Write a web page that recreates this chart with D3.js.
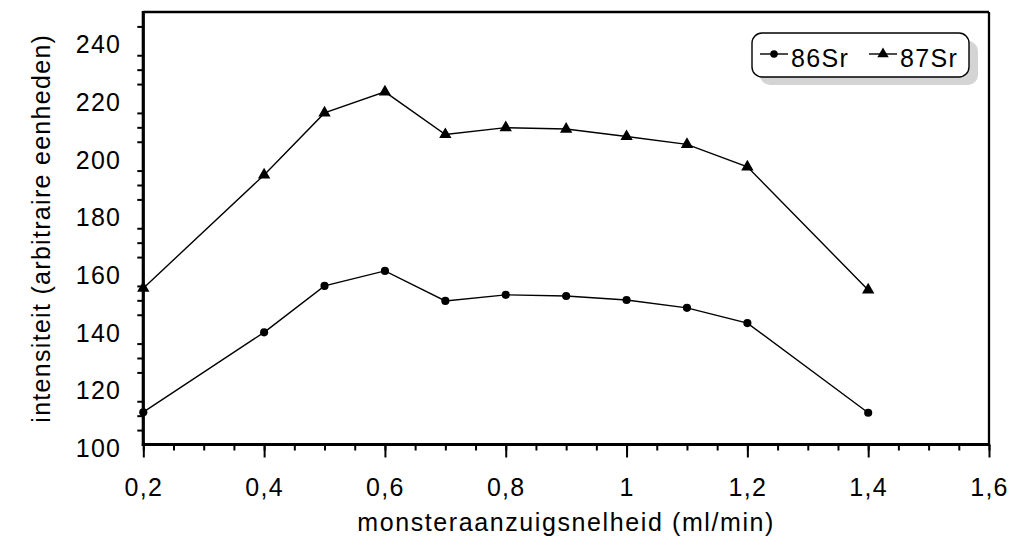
<!DOCTYPE html>
<html>
<head>
<meta charset="utf-8">
<script src="https://cdn.jsdelivr.net/npm/d3@7"></script>
<style>
  html, body { margin: 0; padding: 0; background: #fff; }
  svg { display: block; }
  text { font-family: "Liberation Sans", Arial, sans-serif; fill: #000; }
</style>
</head>
<body>
<svg id="chart" width="1011" height="550"></svg>
<script>
// Sample uptake rate (ml/min) and measured intensities per isotope
const flowRates = [0.2, 0.4, 0.5, 0.6, 0.7, 0.8, 0.9, 1.0, 1.1, 1.2, 1.4];
const sr86 = [111.2, 138.9, 155.0, 160.2, 149.8, 151.9, 151.5, 150.1, 147.4, 142.1, 111.0];
const sr87 = [154.2, 193.5, 215.0, 222.3, 207.5, 209.9, 209.4, 206.8, 204.1, 196.3, 153.6];
const seriesNames = ["86Sr", "87Sr"];
const xTicks = [0.2, 0.4, 0.6, 0.8, 1.0, 1.2, 1.4, 1.6];
const yTicks = [100, 120, 140, 160, 180, 200, 220, 240];
const xTitle = "monsteraanzuigsnelheid (ml/min)";
const yTitle = "intensiteit (arbitraire eenheden)";

const svg = d3.select("#chart");
const plot = { left: 143.3, right: 989, top: 12, bottom: 444.5 };

const x = d3.scaleLinear().domain([0.2, 1.6]).range([plot.left, plot.right]);
const y = d3.scaleLinear().domain([100, 250]).range([plot.bottom, plot.top]);

const nl = d3.formatLocale({ decimal: ",", thousands: ".", grouping: [3], currency: ["€", ""] });
const fmtX = nl.format("~g");

const FS = 25;
const LS = "1.3px";

// minor ticks on the x axis (every 0.05)
const xMinor = d3.range(0.2, 1.6001, 0.05).map(v => +v.toFixed(2));
svg.append("g")
  .attr("transform", `translate(0,${plot.bottom})`)
  .call(d3.axisBottom(x).tickValues(xMinor).tickSize(6).tickFormat(""))
  .call(g => g.select(".domain").remove())
  .call(g => g.selectAll("line").attr("stroke", "#000").attr("stroke-width", 2));

// major ticks and labels on the x axis
svg.append("g")
  .attr("transform", `translate(0,${plot.bottom})`)
  .call(d3.axisBottom(x).tickValues(xTicks).tickSize(13).tickPadding(20.5).tickFormat(fmtX))
  .call(g => g.select(".domain").remove())
  .call(g => g.selectAll("line").attr("stroke", "#000").attr("stroke-width", 2))
  .call(g => g.selectAll("text")
    .attr("font-size", FS).style("letter-spacing", LS)
    .attr("font-family", '"Liberation Sans", Arial, sans-serif').attr("fill", "#000"));

// minor ticks on the y axis (every 5 units)
const yMinor = d3.range(105, 250, 5).filter(v => v % 20 !== 0);
svg.append("g")
  .attr("transform", `translate(${plot.left},0)`)
  .call(d3.axisLeft(y).tickValues(yMinor).tickSize(6).tickFormat(""))
  .call(g => g.select(".domain").remove())
  .call(g => g.selectAll("line").attr("stroke", "#000").attr("stroke-width", 2));

// y axis labels
svg.append("g")
  .attr("transform", `translate(${plot.left},0)`)
  .call(d3.axisLeft(y).tickValues(yTicks).tickSize(0).tickPadding(22).tickFormat(d3.format("d")))
  .call(g => g.select(".domain").remove())
  .call(g => g.selectAll("text")
    .attr("dy", "0.48em")
    .attr("font-size", FS).style("letter-spacing", LS)
    .attr("font-family", '"Liberation Sans", Arial, sans-serif').attr("fill", "#000"));

// plot frame
svg.append("line").attr("x1", plot.left).attr("x2", plot.right).attr("y1", plot.top).attr("y2", plot.top)
  .attr("stroke", "#000").attr("stroke-width", 2.3);
svg.append("line").attr("x1", plot.right).attr("x2", plot.right).attr("y1", plot.top).attr("y2", plot.bottom)
  .attr("stroke", "#000").attr("stroke-width", 2.3);
svg.append("line").attr("x1", plot.left).attr("x2", plot.left).attr("y1", plot.top - 1).attr("y2", plot.bottom + 1.5)
  .attr("stroke", "#000").attr("stroke-width", 3.2);
svg.append("line").attr("x1", plot.left - 1.5).attr("x2", plot.right + 1).attr("y1", plot.bottom).attr("y2", plot.bottom)
  .attr("stroke", "#000").attr("stroke-width", 3.2);

// data lines and markers
const line = d3.line().x(d => x(d[0])).y(d => y(d[1]));
const series = [
  { name: seriesNames[0], values: sr86, symbol: d3.symbolCircle, size: 52 },
  { name: seriesNames[1], values: sr87, symbol: d3.symbolTriangle, size: 66 }
];

series.forEach(s => {
  const pts = flowRates.map((f, i) => [f, s.values[i]]);
  svg.append("path").datum(pts)
    .attr("d", line).attr("fill", "none").attr("stroke", "#000").attr("stroke-width", 1.4);
  svg.append("g").selectAll("path").data(pts).join("path")
    .attr("transform", d => `translate(${x(d[0])},${y(d[1])})`)
    .attr("d", d3.symbol(s.symbol, s.size)())
    .attr("fill", "#000");
});

// legend with drop shadow
const lg = svg.append("g");
lg.append("rect").attr("x", 760).attr("y", 41).attr("width", 218).attr("height", 44)
  .attr("rx", 10).attr("fill", "#d4d4d4");
lg.append("rect").attr("x", 752).attr("y", 33).attr("width", 217).attr("height", 44)
  .attr("rx", 10).attr("fill", "#fff").attr("stroke", "#000").attr("stroke-width", 1.4);

const legendItems = [
  { s: series[0], x0: 760, x1: 788, tx: 791 },
  { s: series[1], x0: 869, x1: 897, tx: 900 }
];
legendItems.forEach(it => {
  lg.append("line").attr("x1", it.x0).attr("x2", it.x1).attr("y1", 54).attr("y2", 54)
    .attr("stroke", "#000").attr("stroke-width", 1.4);
  lg.append("path").attr("transform", `translate(${(it.x0 + it.x1) / 2},54)`)
    .attr("d", d3.symbol(it.s.symbol, it.s.size * 0.85)()).attr("fill", "#000");
  lg.append("text").attr("x", it.tx).attr("y", 67).attr("font-size", FS).style("letter-spacing", LS)
    .text(it.s.name);
});

// axis titles
svg.append("text")
  .attr("x", (plot.left + plot.right) / 2).attr("y", 531)
  .attr("text-anchor", "middle").attr("font-size", FS).style("letter-spacing", "1.6px")
  .text(xTitle);
svg.append("text")
  .attr("transform", `translate(50,${(plot.top + plot.bottom) / 2}) rotate(-90)`)
  .attr("text-anchor", "middle").attr("font-size", FS).style("letter-spacing", "1.3px")
  .text(yTitle);
</script>
</body>
</html>
